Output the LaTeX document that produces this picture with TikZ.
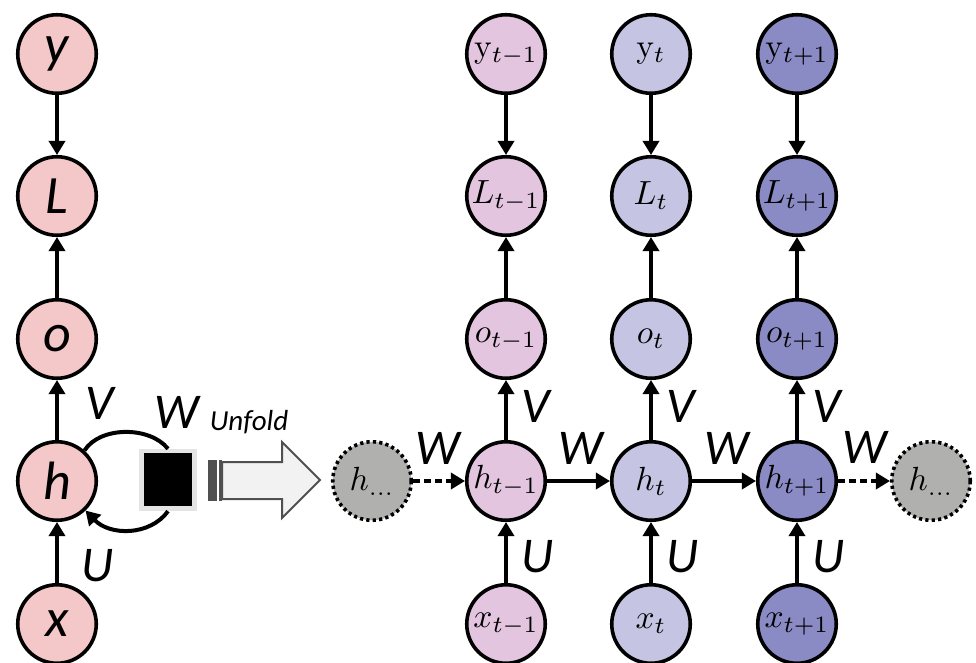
\documentclass[tikz,border=0pt]{standalone}
\usepackage{graphicx}
\usepackage{fontspec}
\newfontfamily\carl{Carlito}
\usetikzlibrary{arrows.meta}
\newcommand{\mlab}[1]{\scalebox{3.35}{$#1$}}
\definecolor{pinkc}{HTML}{F4C7C8}
\definecolor{mauve}{HTML}{E3C5E0}
\definecolor{lav}{HTML}{C5C5E3}
\definecolor{blu}{HTML}{8A8AC4}
\definecolor{grayc}{HTML}{B0B0AF}
\definecolor{darkg}{HTML}{505050}
\definecolor{lightg}{HTML}{F2F2F2}
\definecolor{boxg}{HTML}{E4E4E4}
\begin{document}
\begin{tikzpicture}[x=1pt,y=-1pt,
  unit/.style={circle, draw=black, line width=3.6pt, minimum size=78.5pt, inner sep=0pt},
  lft/.style={unit, fill=pinkc, font=\carl\itshape\fontsize{54}{60}\selectfont},
  mth/.style={unit},
  ghost/.style={mth, fill=grayc, dash pattern=on 3.2pt off 3.2pt},
  arr/.style={line width=4pt, -{Triangle[length=14pt,width=16pt]}},
  dotarr/.style={arr, dash pattern=on 7pt off 4pt},
  wlab/.style={font=\carl\itshape\fontsize{50}{58}\selectfont, inner sep=0pt},
  unf/.style={font=\carl\itshape\fontsize{29}{34}\selectfont, inner sep=0pt}
]
\useasboundingbox (0,0) rectangle (976,662);

% folded network
\node[lft] (y) at (57,54) {y};
\node[lft] (L) at (57,196) {L};
\node[lft] (o) at (57,339) {o};
\node[lft] (h) at (57,481) {h};
\node[lft] (x) at (57,624) {x};
\draw[arr] (y) -- (L);
\draw[arr] (o) -- (L);
\draw[arr] (h) -- (o);
\draw[arr] (x) -- (h);
\node[wlab] (lV) at (100,403) {V};
\node[wlab] (lU) at (98,566) {U};
\node[wlab] (lW) at (177,412) {W};

% delay box
\node[fill=boxg, minimum width=58pt, minimum height=62pt, inner sep=0pt] (wbox) at (168,480) {};
\node[fill=black, minimum width=48pt, minimum height=53pt, inner sep=0pt] (wcore) at (168,479.5) {};
\draw[line width=4pt] (h.48) .. controls (100,426) and (150,426) .. (wbox.north);
\draw[arr] (wbox.south) .. controls (150,536) and (110,536) .. (h.-46);

% unfold arrow
\node[unf] (unfold) at (249,422) {Unfold};
\fill[darkg] (208,460) rectangle (216.5,501);
\fill[darkg] (218.5,460) rectangle (222,501);
\draw[draw=darkg, fill=lightg, line width=2pt, line join=miter]
  (222,462) -- (282,462) -- (282,442) -- (320,480) -- (282,518) -- (282,499) -- (222,499) -- cycle;

% unfolded network
\foreach \i/\xx/\col/\s in {1/506/mauve/{t-1}, 2/651/lav/{t}, 3/797/blu/{t+1}}{
  \node[mth, fill=\col] (y\i) at (\xx,54) {\mlab{\mathrm{y}_{\s}}};
  \node[mth, fill=\col] (L\i) at (\xx,196) {\mlab{L_{\s}}};
  \node[mth, fill=\col] (o\i) at (\xx,339) {\mlab{o_{\s}}};
  \node[mth, fill=\col] (h\i) at (\xx,481) {\mlab{h_{\s}}};
  \node[mth, fill=\col] (x\i) at (\xx,624) {\mlab{x_{\s}}};
  \draw[arr] (y\i) -- (L\i);
  \draw[arr] (o\i) -- (L\i);
  \draw[arr] (h\i) -- (o\i);
  \draw[arr] (x\i) -- (h\i);
  \node[wlab] (V\i) at (\xx+30,406) {V};
  \node[wlab] (U\i) at (\xx+32,557) {U};
}
\node[ghost] (hl) at (372,481) {\mlab{h_{\dots}}};
\node[ghost] (hr) at (931,481) {\mlab{h_{\dots}}};
\draw[dotarr] (hl) -- (h1);
\draw[arr] (h1) -- (h2);
\draw[arr] (h2) -- (h3);
\draw[dotarr] (h3) -- (hr);
\node[wlab] (W0) at (438,448) {W};
\node[wlab] (W1) at (581,448) {W};
\node[wlab] (W2) at (727,448) {W};
\node[wlab] (W3) at (865,447) {W};
\end{tikzpicture}
\end{document}
